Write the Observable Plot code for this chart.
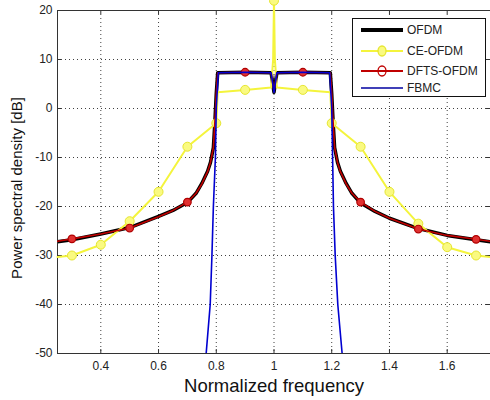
<!DOCTYPE html>
<html>
<head>
<meta charset="utf-8">
<script src="https://cdn.jsdelivr.net/npm/d3@7"></script>
<script src="https://cdn.jsdelivr.net/npm/@observablehq/plot@0.6"></script>
<style>
  html, body { margin: 0; padding: 0; background: #fff; }
  #wrap { position: relative; width: 490px; height: 400px; font-family: "Liberation Sans", Arial, sans-serif; }
  #legend { position: absolute; left: 352px; top: 18px; width: 134px; height: 79px; border: 1px solid #111; background: #fff; box-sizing: border-box; }
  .row { position: absolute; left: 7px; height: 16px; display: flex; align-items: center; font-size: 12px; color: #222; }
  .row svg { margin-right: 3px; }
</style>
</head>
<body>
<div id="wrap"><div id="chart"></div><div id="legend"></div></div>
<script>
// ---- data ----
const xTicks = [0.4, 0.6, 0.8, 1, 1.2, 1.4, 1.6];
const yTicks = [-50, -40, -30, -20, -10, 0, 10, 20];
const yGrid = [-40, -30, -20, -10, 0, 10];

const ofdmFreq = [0.25,0.3,0.4,0.5,0.6,0.65,0.7,0.73,0.75,0.77,0.78,0.79,0.795,0.8,0.805,0.9,0.99,1.0,1.01,1.1,1.195,1.2,1.205,1.21,1.22,1.23,1.25,1.27,1.3,1.35,1.4,1.5,1.6,1.7,1.75];
const ofdmPsd  = [-27.2,-26.8,-25.6,-24.3,-22.0,-20.8,-19.2,-17.3,-15.3,-12.8,-11,-8,-3,3,7.3,7.4,7.3,3.3,7.3,7.4,7.3,3,-3,-8,-11,-12.8,-15.3,-17.3,-19.3,-21,-22.4,-24.5,-25.9,-26.8,-27.2];

const dftsFreq = [0.25,0.3,0.4,0.5,0.6,0.65,0.7,0.73,0.75,0.77,0.78,0.79,0.795,0.8,0.805,0.9,0.99,1.0,1.01,1.1,1.195,1.2,1.205,1.21,1.22,1.23,1.25,1.27,1.3,1.35,1.4,1.5,1.6,1.7,1.75];
const dftsPsd  = [-27.1,-26.6,-25.6,-24.4,-22.1,-20.8,-19.1,-17.3,-15.4,-12.9,-11,-8,-3,3,7.3,7.4,7.3,3.4,7.3,7.4,7.3,3,-3,-8,-11,-12.9,-15.4,-17.3,-19.1,-21,-22.4,-24.6,-25.9,-26.7,-27.1];
const dftsMarkers = [0.3, 0.5, 0.7, 0.9, 1.1, 1.3, 1.5, 1.7];

const ceFreq = [0.25,0.3,0.4,0.5,0.6,0.7,0.8,0.805,0.9,0.99,0.997,1.0,1.003,1.01,1.1,1.195,1.2,1.3,1.4,1.5,1.6,1.7,1.75];
const cePsd  = [-30.3,-30,-27.8,-23,-17,-7.8,-3,3.3,3.8,4.3,10,22,10,4.3,3.8,3.3,-3,-7.8,-17,-23.5,-28.3,-30,-30.3];
const ceMarkers = [0.3,0.4,0.5,0.6,0.7,0.8,0.9,1.0,1.1,1.2,1.3,1.4,1.5,1.6,1.7];

const fbmcFreq = [0.765,0.779,0.785,0.79,0.797,0.8,0.807,0.9,0.99,1.0,1.01,1.1,1.193,1.2,1.203,1.206,1.212,1.221,1.236];
const fbmcPsd  = [-50,-40,-30,-20,-10,0,7.3,7.4,7.3,3.3,7.3,7.4,7.3,0,-10,-20,-30,-40,-50];

const seriesNames = ["OFDM", "CE-OFDM", "DFTS-OFDM", "FBMC"];

// ---- tables ----
const toRows = (xs, ys) => xs.map((x, i) => ({x, y: ys[i]}));
const ofdm = toRows(ofdmFreq, ofdmPsd);
const dfts = toRows(dftsFreq, dftsPsd);
const ce = toRows(ceFreq, cePsd);
const fbmc = toRows(fbmcFreq, fbmcPsd);
const near = (list) => (d) => list.some(m => Math.abs(m - d.x) < 1e-9);
const dftsM = dfts.filter(near(dftsMarkers));
const ceM = ce.filter(near(ceMarkers));

const W = 490, H = 400, mL = 57, mR = 0, mT = 10, mB = 47;
const frameW = W - mL - mR, frameH = H - mT - mB;

const chart = Plot.plot({
  width: W, height: H,
  marginLeft: mL, marginRight: mR, marginTop: mT, marginBottom: mB,
  style: {fontFamily: '"Liberation Sans", Arial, sans-serif', fontSize: "12px", color: "#222", background: "#fff"},
  x: {domain: [0.25, 1.75], ticks: xTicks, tickSize: 0, tickPadding: 8, label: null,
      tickFormat: d => String(+d.toFixed(1))},
  y: {domain: [-50, 20], ticks: yTicks, tickSize: 0, tickPadding: 5, label: null,
      tickFormat: d => String(d)},
  marks: [
    Plot.ruleX(xTicks, {x: d => d, stroke: "#000", strokeOpacity: 0.75, strokeDasharray: "1,3"}),
    Plot.ruleY(yGrid, {y: d => d, stroke: "#000", strokeOpacity: 0.75, strokeDasharray: "1,3"}),
    // inward tick marks
    Plot.tickX(xTicks, {x: d => d, insetTop: frameH - 4, stroke: "#333"}),
    Plot.tickX(xTicks, {x: d => d, insetBottom: frameH - 4, stroke: "#333"}),
    Plot.tickY(yTicks, {y: d => d, insetRight: frameW - 4, stroke: "#333"}),
    Plot.tickY(yTicks, {y: d => d, insetLeft: frameW - 4, stroke: "#333"}),
    // series
    Plot.line(ofdm, {x: "x", y: "y", stroke: "#000", strokeWidth: 3.5, clip: true}),
    Plot.frame({stroke: "#333"}),
    Plot.line(ce, {x: "x", y: "y", stroke: "#f4f43c", strokeWidth: 2}),
    Plot.dot(ceM, {x: "x", y: "y", r: 4.5, fill: "#fafa80", stroke: "#e6e630", strokeWidth: 1}),
    Plot.line(dfts, {x: "x", y: "y", stroke: "#c00000", strokeWidth: 1.6, clip: true}),
    Plot.dot(dftsM, {x: "x", y: "y", r: 3.8, fill: "#e03030", stroke: "#b00000", strokeWidth: 1.2, clip: true}),
    Plot.line(fbmc, {x: "x", y: "y", stroke: "#0000d0", strokeWidth: 1.6, clip: true}),
    // axis titles
    Plot.text(["Normalized frequency"], {frameAnchor: "bottom", dy: 38, fontSize: 18.5, fill: "#111", lineAnchor: "bottom"}),
    Plot.text(["Power spectral density [dB]"], {frameAnchor: "left", textAnchor: "middle", dx: -40, dy: 6, rotate: -90, fontSize: 15, fill: "#111"})
  ]
});
document.getElementById("chart").appendChild(chart);

// ---- legend ----
const legendStyles = [
  {stroke: "#000", width: 4, marker: null},
  {stroke: "#f4f43c", width: 2, marker: {fill: "#fafa80", stroke: "#e6e630"}},
  {stroke: "#c00000", width: 2, marker: {fill: "none", stroke: "#c00000"}},
  {stroke: "#0000a0", width: 1.3, marker: null}
];
const rowTops = [3, 24, 44, 61];
const legend = document.getElementById("legend");
seriesNames.forEach((name, i) => {
  const s = legendStyles[i];
  const row = document.createElement("div");
  row.className = "row";
  row.style.top = rowTops[i] + "px";
  let svg = `<svg width="44" height="16"><line x1="1" y1="8" x2="43" y2="8" stroke="${s.stroke}" stroke-width="${s.width}"/>`;
  if (s.marker) svg += `<ellipse cx="22" cy="8" rx="4" ry="5" fill="${s.marker.fill}" stroke="${s.marker.stroke}" stroke-width="1.3"/>`;
  svg += `</svg>`;
  row.innerHTML = svg + `<span>${name}</span>`;
  legend.appendChild(row);
});
</script>
</body>
</html>
